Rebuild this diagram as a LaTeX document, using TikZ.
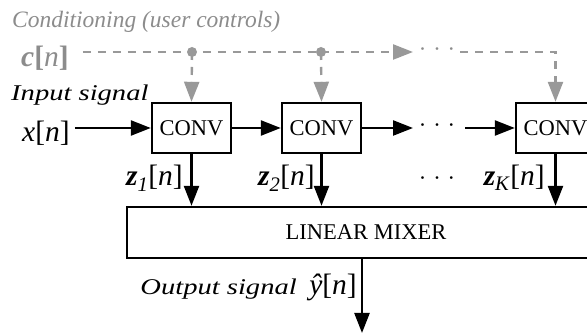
\documentclass[tikz,border=0pt]{standalone}
\usepackage{fontspec}
\setmainfont{Liberation Serif}
\newfontfamily\widefont{Liberation Serif}[FakeStretch=1.27]
\usetikzlibrary{arrows.meta,positioning}

\begin{document}
\begin{tikzpicture}[x=1pt, y=1pt, font=\fontsize{22.5}{26}\selectfont,
  sig/.style={line width=2.4pt, -{Triangle[length=20pt,width=15pt]}},
  ctrl/.style={line width=2.4pt, draw=black!40, dash pattern=on 8pt off 7pt},
  ctrlarrow/.style={ctrl, -{Triangle[length=20pt,width=15pt, fill=black!40]}},
  block/.style={draw, line width=2.4pt, minimum width=79pt, minimum height=50pt, inner sep=0pt},
  lbl/.style={inner sep=0pt},
  it/.style={lbl, font=\fontsize{23.5}{26}\selectfont\itshape},
  wideit/.style={lbl, font=\widefont\fontsize{22.5}{26}\selectfont\itshape},
  sym/.style={lbl, font=\fontsize{29.5}{34}\selectfont}]
  \useasboundingbox (0,0) rectangle (587,334);
  \clip (0,0) rectangle (587,334);

  % === Conditioning branch (gray, dashed) ===
  \node[it, anchor=base west, text=black!45] (cond) at (12,306) {Conditioning (user controls)};
  \node[sym, anchor=base west, text=black!45] (cn) at (21,267)
    {\textbf{\textit{c}[}\textit{n}\textbf{]}};
  \coordinate (d1) at (192,282);
  \coordinate (d2) at (321,282);
  \coordinate (ca) at (413,282);
  \coordinate (cb) at (460,282);
  \node[lbl, text=black!45] (cdots) at (437,282) {·\hspace{7pt}·\hspace{7pt}·};

  % === Convolution chain ===
  \foreach \name/\x in {conv1/191.5, conv2/321.5, conv3/555.5} {
    \node[block] (\name) at (\x,206) {CONV};
  }
  \node[block, minimum width=478pt, minimum height=51pt] (mixer) at (366,101.5) {LINEAR MIXER};

  % control lines
  \draw[ctrl, shorten <=14pt] (cn.east |- d1) -- (d1) -- (d2);
  \draw[ctrlarrow] (d2) -- (ca);
  \draw[ctrlarrow] (cb) -| (conv3.north);
  \draw[ctrlarrow] (d1) -- (conv1.north);
  \draw[ctrlarrow] (d2) -- (conv2.north);
  \fill[black!40] (d1) circle (5pt) (d2) circle (5pt);

  % input
  \node[wideit, anchor=base west] (insig) at (11,233) {Input signal};
  \node[sym, anchor=base west] (xn) at (22,192) {\textit{x}[\textit{n}]};
  \coordinate (ra) at (413,206);
  \coordinate (rb) at (465,206);
  \node[lbl] (rdots) at (437,206) {·\hspace{7pt}·\hspace{7pt}·};
  \draw[sig, shorten <=5pt] (xn.east |- conv1.west) -- (conv1.west);
  \draw[sig] (conv1) -- (conv2);
  \draw[sig] (conv2) -- (ra);
  \draw[sig] (rb) -- (conv3);

  % taps into the mixer
  \foreach \name in {conv1, conv2, conv3} {
    \draw[sig] (\name.south) -- (\name.south |- mixer.north);
  }
  \node[sym, anchor=base east] (z1) at (183,148)
    {\textbf{\textit{z}}\textsubscript{\textit{1}}[\textit{n}]};
  \node[sym, anchor=base east] (z2) at (315,148)
    {\textbf{\textit{z}}\textsubscript{\textit{2}}[\textit{n}]};
  \node[sym, anchor=base east] (zK) at (545,148)
    {\textbf{\textit{z}}\textsubscript{\textit{K}}[\textit{n}]};
  \node[lbl] (zdots) at (437,153) {·\hspace{7pt}·\hspace{7pt}·};

  % output
  \coordinate (out) at (362,1);
  \draw[sig] (mixer.south -| out) -- (out);
  \node[sym, anchor=base east] (yn) at (357,39) {\textit{ŷ}[\textit{n}]};
  \node[wideit, anchor=base east] (outsig) at (297,39) {Output signal};
\end{tikzpicture}
\end{document}
